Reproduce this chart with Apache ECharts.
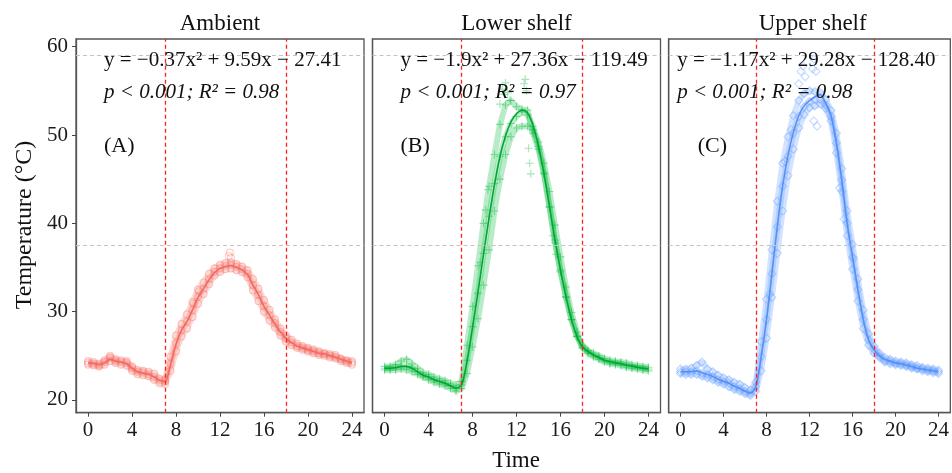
<!DOCTYPE html>
<html>
<head>
<meta charset="utf-8">
<script src="https://cdn.jsdelivr.net/npm/echarts@6/dist/echarts.min.js"></script>
<style>html,body{margin:0;padding:0;background:#fff}#c{width:952px;height:473px}</style>
</head>
<body>
<div id="c"></div>
<script>
// ---------- data ----------
const panelTitles = ['Ambient', 'Lower shelf', 'Upper shelf'];
const panelTags = ['(A)', '(B)', '(C)'];
const equations = ['y = \u22120.37x\u00B2 + 9.59x \u2212 27.41', 'y = \u22121.9x\u00B2 + 27.36x \u2212 119.49', 'y = \u22121.17x\u00B2 + 29.28x \u2212 128.40'];
const stats = ['p < 0.001; R\u00B2 = 0.98', 'p < 0.001; R\u00B2 = 0.97', 'p < 0.001; R\u00B2 = 0.98'];
const xTicks = [0, 4, 8, 12, 16, 20, 24];
const yTicks = [20, 30, 40, 50, 60];
const sunTimes = [7, 18];
const refTemps = [59, 37.5];

const hours = [0,0.5,1,1.5,2,2.5,3,3.5,4,4.5,5,5.5,6,6.5,7,7.5,8,8.5,9,9.5,10,10.5,11,11.5,12,12.5,13,13.5,14,14.5,15,15.5,16,16.5,17,17.5,18,18.5,19,19.5,20,20.5,21,21.5,22,22.5,23,23.5,24];

const ambientDay1 = [24.4,24.3,24.1,24.5,25.0,24.6,24.5,24.4,23.8,23.4,23.3,23.2,23.0,22.4,22.3,24.9,27.3,28.6,29.7,31.1,32.5,33.3,34.3,34.9,35.3,35.5,35.6,35.4,35.1,34.7,33.7,32.6,31.3,30.2,29.1,28.1,27.3,26.8,26.4,26.1,25.9,25.7,25.5,25.3,25.2,25.1,24.7,24.5,24.4];
const ambientDay2 = [24.2,24.1,23.9,24.3,24.8,24.4,24.3,24.2,23.6,23.2,23.1,22.9,22.6,22.2,22.1,24.1,26.4,27.9,28.9,30.2,31.7,32.6,33.7,34.5,34.9,35.2,35.3,35.1,34.8,34.3,33.0,31.9,30.6,29.6,28.7,27.7,27.0,26.5,26.1,25.9,25.7,25.5,25.3,25.2,25.0,24.9,24.6,24.4,24.2];
const ambientDay3 = [24.0,23.9,23.8,24.0,24.4,24.2,24.0,23.9,23.3,22.9,22.8,22.7,22.3,21.9,21.8,23.3,25.5,27.2,28.1,29.4,30.9,32.0,33.1,34.1,34.5,34.8,34.9,34.7,34.5,33.9,32.4,31.2,30.0,29.0,28.2,27.3,26.6,26.2,25.9,25.7,25.5,25.3,25.1,25.0,24.8,24.7,24.4,24.2,24.0];
const ambientFit = [24.2,24.15,24.0,24.2,24.6,24.4,24.3,24.1,23.6,23.2,23.05,22.9,22.6,22.25,22.1,24.0,26.3,27.9,28.9,30.2,31.6,32.6,33.6,34.4,34.9,35.1,35.2,35.0,34.7,34.2,33.0,31.9,30.6,29.6,28.6,27.7,27.0,26.5,26.1,25.9,25.7,25.5,25.3,25.2,25.0,24.85,24.6,24.4,24.2];
const ambientExtra = [[12.8,36.3],[12.9,36.7],[13.0,36.1],[9.6,30.9],[10.1,32.3]];

const lowerDay1 = [23.8,23.8,24.0,24.4,24.6,24.1,23.6,23.1,22.9,22.6,22.4,22.2,21.9,21.7,22.1,26.2,30.6,35.2,40.0,44.2,47.8,51.2,53.4,53.9,53.2,52.9,52.8,50.2,48.4,45.6,41.8,37.8,34.5,31.6,29.1,27.2,26.2,25.6,25.3,25.0,24.7,24.5,24.4,24.3,24.2,24.0,23.9,23.8,23.7];
const lowerDay2 = [23.6,23.6,23.7,23.8,23.8,23.6,23.2,22.8,22.6,22.3,22.1,21.9,21.6,21.3,21.7,24.5,28.3,32.1,36.6,40.8,44.5,47.6,49.8,51.3,52.1,52.6,52.3,51.0,48.7,45.7,41.9,38.1,34.7,31.7,29.1,27.2,26.0,25.5,25.1,24.8,24.5,24.3,24.2,24.1,23.9,23.8,23.7,23.6,23.5];
const lowerDay3 = [23.4,23.4,23.4,23.5,23.4,23.2,22.9,22.6,22.3,22.0,21.8,21.6,21.3,21.0,21.3,23.0,26.0,29.2,33.0,37.0,41.4,45.0,47.8,49.8,50.8,51.0,51.0,50.6,49.2,46.8,43.6,39.8,36.2,32.8,29.9,27.7,25.9,25.3,24.9,24.6,24.3,24.1,24.0,23.9,23.7,23.6,23.5,23.4,23.3];
const lowerFit = [23.6,23.6,23.65,23.8,23.8,23.6,23.2,22.8,22.6,22.3,22.1,21.9,21.6,21.35,21.7,24.4,28.2,32.2,36.5,40.6,44.4,47.6,49.9,51.5,52.4,52.8,52.5,51.1,48.7,45.6,41.9,38.1,34.7,31.7,29.1,27.2,26.0,25.5,25.1,24.8,24.5,24.35,24.2,24.1,23.95,23.85,23.7,23.6,23.5];
const lowerExtra = [[10.5,53.5],[10.7,55.2],[10.9,54.6],[11.0,55.9],[11.2,54.8],[11.4,53.9],[12.7,55.8],[12.8,56.3],[12.9,55.0],[13.1,48.5],[13.2,46.8],[13.3,45.6],[15.3,38.6],[15.6,36.5],[9.2,41.5],[9.4,43.8],[8.7,35.6]];

const upperDay1 = [23.5,23.5,23.6,23.9,24.3,23.5,23.2,22.8,22.5,22.3,22.0,21.8,21.4,21.1,22.0,26.6,31.4,37.0,42.5,46.8,49.8,52.2,53.9,54.7,55.0,54.9,54.8,54.0,52.8,50.2,46.2,41.4,37.6,33.7,30.2,27.5,26.1,25.3,24.8,24.6,24.4,24.3,24.2,24.0,23.9,23.7,23.6,23.5,23.4];
const upperDay2 = [23.2,23.2,23.2,23.3,23.0,22.85,22.65,22.3,22.1,21.9,21.5,21.3,20.95,20.75,21.5,24.9,29.1,34.3,39.6,44.2,47.6,50.2,52.1,53.2,53.8,54.0,54.0,53.4,52.1,49.1,44.9,40.0,36.2,32.5,29.1,26.8,25.7,25.0,24.5,24.35,24.15,24.1,23.95,23.8,23.6,23.5,23.4,23.3,23.2];
const upperDay3 = [23.0,22.9,22.9,22.9,22.7,22.5,22.3,22.0,21.8,21.5,21.2,21.0,20.7,20.5,21.0,23.3,27.0,31.6,36.6,41.4,45.4,48.4,50.8,52.3,53.1,53.3,53.5,53.0,51.6,48.0,43.6,38.6,34.8,31.2,28.1,26.2,25.3,24.8,24.3,24.1,24.0,23.9,23.8,23.6,23.5,23.3,23.2,23.1,23.0];
const upperFit = [23.2,23.2,23.2,23.3,23.1,22.9,22.65,22.35,22.1,21.9,21.55,21.3,21.0,20.8,21.5,24.9,29.1,34.3,39.6,44.2,47.7,50.3,52.2,53.3,53.9,54.3,54.6,53.6,52.2,49.1,44.9,40.0,36.2,32.5,29.1,26.8,25.7,25.0,24.6,24.4,24.2,24.1,23.95,23.8,23.6,23.5,23.4,23.3,23.2];
const upperExtra = [[11.0,55.8],[11.2,57.2],[11.4,57.8],[11.6,56.6],[12.3,57.5],[12.4,58.6],[12.6,57.2],[12.4,51.6],[12.7,51.0],[14.8,44.0],[15.2,40.5],[16.1,36.0],[9.7,47.0],[10.3,50.6],[8.3,32.0]];

// ---------- styling ----------
const FONT = '"Liberation Serif", "Times New Roman", serif';
const colors = [[248,118,109],[0,186,56],[97,156,255]];
const fitColors = ['#F06A60', '#00A632', '#5590F5'];
const symbols = ['circle', 'path://M5,0L5,10M0,5L10,5', 'diamond'];
const symbolSizes = [7, 8, 8];
const gridLefts = [76, 372.5, 668.7];
const gridW = 288, gridTop = 39, gridH = 373.7;

const days = [[ambientDay1, ambientDay2, ambientDay3], [lowerDay1, lowerDay2, lowerDay3], [upperDay1, upperDay2, upperDay3]];
const fits = [ambientFit, lowerFit, upperFit];
const extras = [ambientExtra, lowerExtra, upperExtra];

const rgba = (c, a) => 'rgba(' + c[0] + ',' + c[1] + ',' + c[2] + ',' + a + ')';
const pairs = vals => hours.map((h, i) => [h, vals[i]]);

const grids = [], xAxes = [], yAxes = [], series = [], graphics = [];
for (let p = 0; p < 3; p++) {
  grids.push({left: gridLefts[p], top: gridTop, width: gridW, height: gridH, show: true,
    borderColor: '#555', borderWidth: 1.3, backgroundColor: '#fff', containLabel: false});
  xAxes.push({type: 'value', gridIndex: p, min: -1.1, max: 25.1,
    axisLine: {show: true, onZero: false, lineStyle: {color: '#555', width: 1.3}},
    axisTick: {show: true, length: 4, inside: false, customValues: xTicks, lineStyle: {color: '#444', width: 1}},
    axisLabel: {show: true, customValues: xTicks, fontFamily: FONT, fontSize: 21, color: '#1a1a1a', margin: 7},
    splitLine: {show: false}});
  yAxes.push({type: 'value', gridIndex: p, min: 18.56, max: 60.87,
    axisLine: {show: true, onZero: false, lineStyle: {color: '#555', width: 1.3}},
    axisTick: {show: p === 0, length: 4, customValues: yTicks, lineStyle: {color: '#444', width: 1}},
    axisLabel: {show: p === 0, customValues: yTicks, fontFamily: FONT, fontSize: 21, color: '#1a1a1a', margin: 8},
    splitLine: {show: false}});

  const col = colors[p];
  // reference lines
  series.push({type: 'line', xAxisIndex: p, yAxisIndex: p, data: [], silent: true, z: 1,
    markLine: {silent: true, symbol: 'none', label: {show: false}, animation: false,
      data: refTemps.map(v => ({yAxis: v, lineStyle: {color: '#c4c4c4', type: [4, 3], width: 1}}))
        .concat(sunTimes.map(v => ({xAxis: v, lineStyle: {color: '#ff2020', type: [4, 3], width: 1.3}})))}});
  // daily traces (dense points)
  days[p].forEach(d => {
    series.push({type: 'line', xAxisIndex: p, yAxisIndex: p, data: pairs(d), z: 2,
      symbol: symbols[p], symbolSize: symbolSizes[p], showSymbol: true, showAllSymbol: true,
      itemStyle: {color: 'rgba(0,0,0,0)', borderColor: rgba(col, 0.4), borderWidth: 1.1},
      lineStyle: {color: rgba(col, 0.28), width: 6},
      emphasis: {disabled: true}, animation: false});
  });
  // scattered extra points
  series.push({type: 'scatter', xAxisIndex: p, yAxisIndex: p, data: extras[p], z: 2,
    symbol: symbols[p], symbolSize: symbolSizes[p],
    itemStyle: {color: 'rgba(0,0,0,0)', borderColor: rgba(col, 0.45), borderWidth: 1.1}, animation: false});
  // fitted line
  series.push({type: 'line', xAxisIndex: p, yAxisIndex: p, data: pairs(fits[p]), z: 3,
    showSymbol: false, smooth: 0.3, lineStyle: {color: fitColors[p], width: 1.6}, animation: false});

  const cx = gridLefts[p] + gridW / 2;
  graphics.push({type: 'text', x: cx, y: 24, style: {text: panelTitles[p], font: '23px ' + FONT, fill: '#111', textAlign: 'center', textVerticalAlign: 'middle'}});
  const tx = gridLefts[p] + (p === 2 ? 8.5 : 28);
  graphics.push({type: 'text', x: tx, y: 60, z: 10, style: {text: equations[p], font: '21px ' + FONT, fill: '#111', textAlign: 'left', textVerticalAlign: 'middle'}});
  graphics.push({type: 'text', x: tx, y: 92, z: 10, style: {text: stats[p], font: 'italic 21px ' + FONT, fill: '#111', textAlign: 'left', textVerticalAlign: 'middle'}});
  graphics.push({type: 'text', x: gridLefts[p] + (p === 2 ? 29 : 28), y: 146, z: 10, style: {text: panelTags[p], font: '22px ' + FONT, fill: '#111', textAlign: 'left', textVerticalAlign: 'middle'}});
}
graphics.push({type: 'text', x: 25, y: 225, rotation: Math.PI / 2, style: {text: 'Temperature (\u00B0C)', font: '24px ' + FONT, fill: '#111', textAlign: 'center', textVerticalAlign: 'middle'}});
graphics.push({type: 'text', x: 516, y: 461, style: {text: 'Time', font: '23px ' + FONT, fill: '#111', textAlign: 'center', textVerticalAlign: 'middle'}});

const chart = echarts.init(document.getElementById('c'), null, {renderer: 'canvas'});
chart.setOption({
  animation: false,
  backgroundColor: '#fff',
  grid: grids, xAxis: xAxes, yAxis: yAxes, series: series,
  graphic: graphics
});
</script>
</body>
</html>
